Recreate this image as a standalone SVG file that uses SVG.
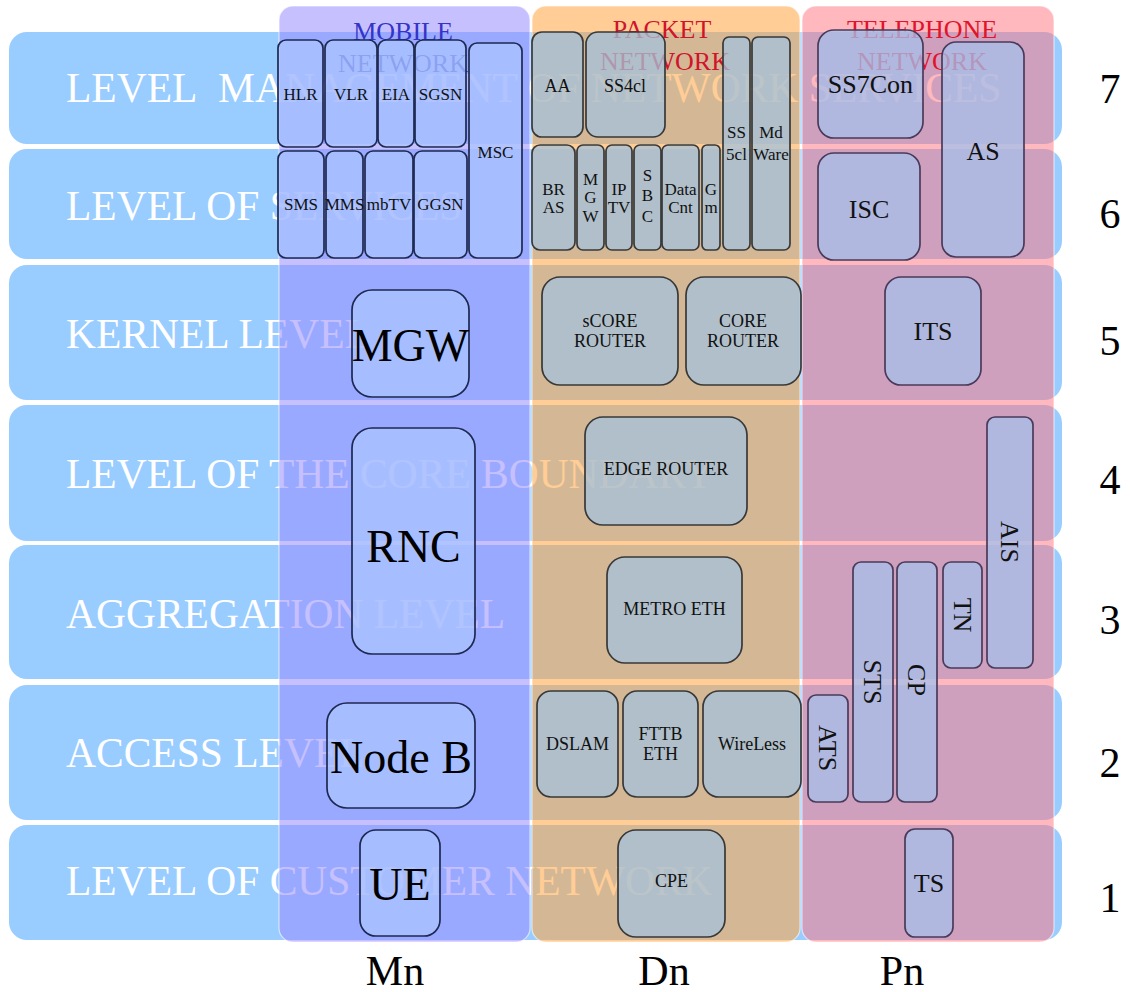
<svg xmlns="http://www.w3.org/2000/svg" width="1130" height="992" viewBox="0 0 1130 992" font-family="'Liberation Serif', serif">
<style>
text{font-family:"Liberation Serif","Times New Roman",serif}
.row{fill:#99CCFF}
.lvl{font-size:41.5px;fill:#FFFFFF}
.num{font-size:42px;fill:#000;text-anchor:middle}
.colm{fill:#998DFF;fill-opacity:0.55;stroke:#FFFFFF;stroke-opacity:0.6;stroke-width:1.2}
.colp{fill:#FFA848;fill-opacity:0.58;stroke:#FFFFFF;stroke-opacity:0.6;stroke-width:1.2}
.colt{fill:#FF7884;fill-opacity:0.53;stroke:#FFFFFF;stroke-opacity:0.6;stroke-width:1.2}
.title{font-size:26px;text-anchor:middle}
.bm{fill:#ABC5FF;fill-opacity:0.75;stroke:#1E2850;stroke-width:1.7}
.bp{fill:#A4C1DB;fill-opacity:0.75;stroke:#383838;stroke-width:1.7}
.bt{fill:#A5C0EB;fill-opacity:0.75;stroke:#4A3A5A;stroke-width:1.7}
.s{font-size:17px;fill:#111;text-anchor:middle}
.m{font-size:18px;fill:#111;text-anchor:middle}
.t{font-size:26px;fill:#111;text-anchor:middle}
.big{font-size:46px;fill:#000;text-anchor:middle}
.foot{font-size:42px;fill:#000;text-anchor:middle}
</style>

<g id="levels">
  <g id="level7"><rect class="row" x="9" y="32" width="1053" height="112" rx="18"/><text class="lvl" x="66" y="102">LEVEL&#160; MANAGEMENT OF NETWORK SERVICES</text></g>
  <g id="level6"><rect class="row" x="9" y="149" width="1053" height="110" rx="18"/><text class="lvl" x="66" y="220">LEVEL OF SERVICES</text></g>
  <g id="level5"><rect class="row" x="9" y="265" width="1053" height="135" rx="18"/><text class="lvl" x="66" y="348">KERNEL LEVEL</text></g>
  <g id="level4"><rect class="row" x="9" y="405" width="1053" height="136" rx="18"/><text class="lvl" x="66" y="488">LEVEL OF THE CORE BOUNDARY</text></g>
  <g id="level3"><rect class="row" x="9" y="545" width="1053" height="134" rx="18"/><text class="lvl" x="66" y="628">AGGREGATION LEVEL</text></g>
  <g id="level2"><rect class="row" x="9" y="685" width="1053" height="135" rx="18"/><text class="lvl" x="66" y="767">ACCESS LEVEL</text></g>
  <g id="level1"><rect class="row" x="9" y="825" width="1053" height="115" rx="18"/><text class="lvl" x="66" y="895">LEVEL OF CUSTOMER NETWORK</text></g>
</g>

<g id="level-numbers">
  <text class="num" x="1110" y="103">7</text>
  <text class="num" x="1110" y="228">6</text>
  <text class="num" x="1110" y="355">5</text>
  <text class="num" x="1110" y="494">4</text>
  <text class="num" x="1110" y="634">3</text>
  <text class="num" x="1110" y="777">2</text>
  <text class="num" x="1110" y="912">1</text>
</g>

<g id="col-mobile">
  <rect class="colm" x="279" y="6" width="251" height="936" rx="14"/>
  <text class="title" fill="#3434C8"><tspan x="403" y="40">MOBILE</tspan><tspan x="403" y="72">NETWORK</tspan></text>
</g>
<g id="col-packet">
  <rect class="colp" x="532" y="6" width="268" height="936" rx="14"/>
  <text class="title" fill="#D0142C"><tspan x="662" y="38">PACKET</tspan><tspan x="665" y="70">NETWORK</tspan></text>
</g>
<g id="col-telephone">
  <rect class="colt" x="802" y="6" width="252" height="936" rx="14"/>
  <text class="title" fill="#E0142C"><tspan x="922" y="38">TELEPHONE</tspan><tspan x="922" y="70">NETWORK</tspan></text>
</g>

<g id="connectors"></g>

<g id="HLR"><rect class="bm" x="278" y="40" width="45" height="107" rx="8"/><text class="s" x="300.5" y="100">HLR</text></g>
<g id="VLR"><rect class="bm" x="325" y="40" width="52" height="107" rx="8"/><text class="s" x="351" y="100">VLR</text></g>
<g id="EIA"><rect class="bm" x="378" y="40" width="36" height="107" rx="8"/><text class="s" x="396" y="100">EIA</text></g>
<g id="SGSN"><rect class="bm" x="415" y="40" width="51" height="107" rx="8"/><text class="s" x="440.5" y="100">SGSN</text></g>
<g id="MSC"><rect class="bm" x="469" y="43" width="53" height="215" rx="8"/><text class="s" x="495.5" y="158">MSC</text></g>
<g id="SMS"><rect class="bm" x="278" y="151" width="46" height="107" rx="8"/><text class="s" x="301" y="210">SMS</text></g>
<g id="MMS"><rect class="bm" x="326" y="151" width="37" height="107" rx="8"/><text class="s" x="344.5" y="210">MMS</text></g>
<g id="mbTV"><rect class="bm" x="365" y="151" width="48" height="107" rx="8"/><text class="s" x="389" y="210">mbTV</text></g>
<g id="GGSN"><rect class="bm" x="414" y="151" width="53" height="107" rx="8"/><text class="s" x="440.5" y="210">GGSN</text></g>
<g id="MGW-mobile"><rect class="bm" x="352" y="290" width="117" height="107" rx="20"/><text class="big" x="410.5" y="361">MGW</text></g>
<g id="RNC"><rect class="bm" x="352" y="428" width="123" height="226" rx="20"/><text class="big" x="413.5" y="562">RNC</text></g>
<g id="NodeB"><rect class="bm" x="327" y="703" width="148" height="105" rx="20"/><text class="big" x="401" y="773">Node B</text></g>
<g id="UE"><rect class="bm" x="360" y="830" width="80" height="106" rx="16"/><text class="big" x="400" y="900">UE</text></g>

<g id="AA"><rect class="bp" x="532" y="32" width="51" height="105" rx="10"/><text class="m" x="557.5" y="92">AA</text></g>
<g id="SS4cl"><rect class="bp" x="586" y="32" width="79" height="105" rx="12"/><text class="m" x="625" y="92">SS4cl</text></g>
<g id="SS5cl"><rect class="bp" x="723" y="37" width="27" height="213" rx="6"/><text class="s"><tspan x="736.5" y="138">SS</tspan><tspan x="736.5" y="160">5cl</tspan></text></g>
<g id="MdWare"><rect class="bp" x="752" y="37" width="38" height="213" rx="6"/><text class="s"><tspan x="771" y="138">Md</tspan><tspan x="771" y="160">Ware</tspan></text></g>
<g id="BRAS"><rect class="bp" x="532" y="145" width="43" height="105" rx="8"/><text class="s"><tspan x="553.5" y="195">BR</tspan><tspan x="553.5" y="213">AS</tspan></text></g>
<g id="MGW-packet"><rect class="bp" x="577" y="145" width="27" height="105" rx="6"/><text class="s"><tspan x="590.5" y="185">M</tspan><tspan x="590.5" y="203">G</tspan><tspan x="590.5" y="222">W</tspan></text></g>
<g id="IPTV"><rect class="bp" x="606" y="145" width="26" height="105" rx="6"/><text class="s"><tspan x="619" y="195">IP</tspan><tspan x="619" y="213">TV</tspan></text></g>
<g id="SBC"><rect class="bp" x="634" y="145" width="27" height="105" rx="6"/><text class="s"><tspan x="647.5" y="181">S</tspan><tspan x="647.5" y="201">B</tspan><tspan x="647.5" y="222">C</tspan></text></g>
<g id="DataCnt"><rect class="bp" x="662" y="145" width="37" height="105" rx="6"/><text class="s"><tspan x="680.5" y="195">Data</tspan><tspan x="680.5" y="213">Cnt</tspan></text></g>
<g id="Gm"><rect class="bp" x="702" y="145" width="18" height="105" rx="5"/><text class="s"><tspan x="711" y="195">G</tspan><tspan x="711" y="213">m</tspan></text></g>
<g id="sCORE-ROUTER"><rect class="bp" x="542" y="277" width="136" height="108" rx="18"/><text class="m"><tspan x="610" y="327">sCORE</tspan><tspan x="610" y="347">ROUTER</tspan></text></g>
<g id="CORE-ROUTER"><rect class="bp" x="686" y="277" width="115" height="108" rx="18"/><text class="m"><tspan x="743" y="327">CORE</tspan><tspan x="743" y="347">ROUTER</tspan></text></g>
<g id="EDGE-ROUTER"><rect class="bp" x="585" y="417" width="162" height="108" rx="18"/><text class="m" x="666" y="475">EDGE ROUTER</text></g>
<g id="METRO-ETH"><rect class="bp" x="607" y="557" width="135" height="106" rx="18"/><text class="m" x="674.5" y="615">METRO ETH</text></g>
<g id="DSLAM"><rect class="bp" x="537" y="691" width="81" height="106" rx="14"/><text class="m" x="577.5" y="750">DSLAM</text></g>
<g id="FTTB-ETH"><rect class="bp" x="623" y="691" width="75" height="106" rx="14"/><text class="m"><tspan x="660.5" y="740">FTTB</tspan><tspan x="660.5" y="760">ETH</tspan></text></g>
<g id="WireLess"><rect class="bp" x="703" y="691" width="98" height="106" rx="16"/><text class="m" x="752" y="750">WireLess</text></g>
<g id="CPE"><rect class="bp" x="618" y="830" width="107" height="107" rx="18"/><text class="m" x="671.5" y="887">CPE</text></g>

<g id="SS7Con"><rect class="bt" x="818" y="30" width="105" height="108" rx="16"/><text class="t" x="870.5" y="93">SS7Con</text></g>
<g id="AS"><rect class="bt" x="942" y="42" width="82" height="215" rx="14"/><text class="t" x="983" y="160">AS</text></g>
<g id="ISC"><rect class="bt" x="818" y="153" width="102" height="107" rx="16"/><text class="t" x="869" y="218">ISC</text></g>
<g id="ITS"><rect class="bt" x="885" y="277" width="96" height="108" rx="16"/><text class="t" x="933" y="340">ITS</text></g>
<g id="AIS"><rect class="bt" x="987" y="417" width="46" height="251" rx="8"/><text class="t" transform="translate(1010,542) rotate(90)" x="0" y="9">AIS</text></g>
<g id="TN"><rect class="bt" x="943" y="562" width="39" height="106" rx="8"/><text class="t" transform="translate(962.5,615) rotate(90)" x="0" y="9">TN</text></g>
<g id="STS"><rect class="bt" x="853" y="562" width="40" height="240" rx="8"/><text class="t" transform="translate(873,682) rotate(90)" x="0" y="9">STS</text></g>
<g id="CP"><rect class="bt" x="897" y="562" width="40" height="240" rx="8"/><text class="t" transform="translate(917,680) rotate(90)" x="0" y="9">CP</text></g>
<g id="ATS"><rect class="bt" x="808" y="695" width="40" height="107" rx="8"/><text class="t" transform="translate(828,748) rotate(90)" x="0" y="9">ATS</text></g>
<g id="TS"><rect class="bt" x="905" y="829" width="48" height="108" rx="10"/><text class="t" x="929" y="892">TS</text></g>

<g id="column-labels">
  <text class="foot" x="395" y="985">Mn</text>
  <text class="foot" x="664" y="985">Dn</text>
  <text class="foot" x="902" y="985">Pn</text>
</g>
</svg>
